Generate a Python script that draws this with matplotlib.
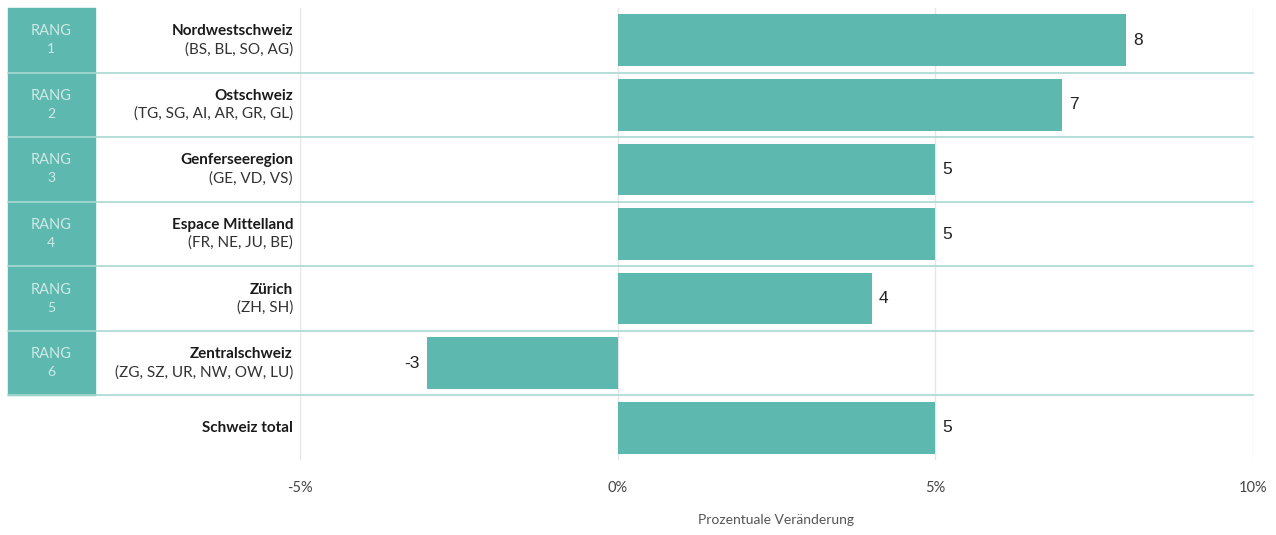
import matplotlib.pyplot as plt
import matplotlib.transforms as mtransforms

regions = ["Nordwestschweiz", "Ostschweiz", "Genferseeregion", "Espace Mittelland",
           "Zürich", "Zentralschweiz", "Schweiz total"]
cantons = ["(BS, BL, SO, AG)", "(TG, SG, AI, AR, GR, GL)", "(GE, VD, VS)",
           "(FR, NE, JU, BE)", "(ZH, SH)", "(ZG, SZ, UR, NW, OW, LU)", ""]
ranks = [1, 2, 3, 4, 5, 6, None]
values = [8, 7, 5, 5, 4, -3, 5]
ticks = [-5, 0, 5, 10]
tick_labels = ["-5%", "0%", "5%", "10%"]
xlabel = "Prozentuale Veränderung"

TEAL = "#5db8af"
SEP = "#a9d9d3"
W, H = 1276, 535

plt.rcParams['font.family'] = ['Lato', 'DejaVu Sans']

fig = plt.figure(figsize=(W / 100, H / 100), dpi=100)
ax = fig.add_axes([300 / W, 1 - 460 / H, (1253 - 300) / W, (460 - 8) / H])

n = len(regions)
y = list(range(n))
ax.barh(y, values, height=0.8, color=TEAL, zorder=3)
ax.set_xlim(-5, 10)
ax.set_ylim(n - 0.5, -0.5)

for s in ax.spines.values():
    s.set_visible(False)
ax.set_yticks([])
ax.set_xticks(ticks)
ax.set_xticklabels(tick_labels, fontsize=10.5, color="#444444")
ax.tick_params(axis="x", length=0, pad=15)
ax.xaxis.grid(True, color="#e6e6e6", lw=1, zorder=0)
ax.set_xlabel(xlabel, fontsize=10, color="#555555", labelpad=14)

# pixel x / data y transform for the label column
px = mtransforms.blended_transform_factory(
    mtransforms.Affine2D().scale(1 / W, 1) + fig.transFigure, ax.transData)

def off(dy):
    return mtransforms.offset_copy(px, fig=fig, x=0, y=dy, units="points")

# rank box
n_ranked = sum(r is not None for r in ranks)
ax.add_patch(plt.Rectangle((8, -0.5), 87, n_ranked, transform=px, color=TEAL,
                           clip_on=False, zorder=2))

for i, (name, sub, rk, v) in enumerate(zip(regions, cantons, ranks, values)):
    if sub:
        ax.text(293, i, name, transform=off(6.5), ha="right", va="center",
                fontsize=11, fontweight="bold", color="#1a1a1a", clip_on=False)
        ax.text(293, i, sub, transform=off(-6.5), ha="right", va="center",
                fontsize=11, color="#333333", clip_on=False)
    else:
        ax.text(293, i, name, transform=px, ha="right", va="center",
                fontsize=11, fontweight="bold", color="#1a1a1a", clip_on=False)
    if rk is not None:
        ax.text(51, i, "RANG", transform=off(6.5), ha="center", va="center",
                fontsize=10.5, color="white", alpha=0.7, clip_on=False)
        ax.text(51, i, str(rk), transform=off(-6.5), ha="center", va="center",
                fontsize=10, color="white", alpha=0.7, clip_on=False)
    ax.annotate(str(v), (v, i), xytext=(5 if v >= 0 else -5, 0),
                textcoords="offset points", ha="left" if v >= 0 else "right",
                va="center", fontsize=12.5, family="Liberation Sans",
                color="#222222", zorder=4)

# row separators
for i in range(n - 1):
    ax.plot([8, 1253], [i + 0.5, i + 0.5], transform=px, color=SEP, lw=1.2,
            clip_on=False, zorder=5)

fig.savefig("out.png", dpi=100)
